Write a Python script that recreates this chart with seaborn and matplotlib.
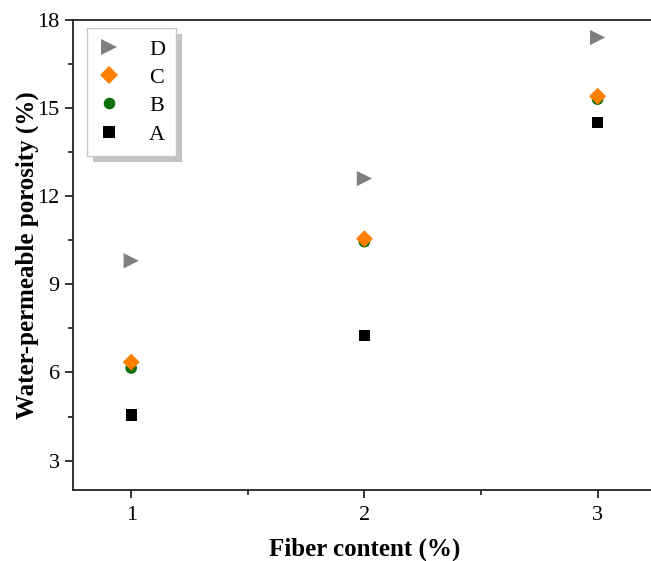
import numpy as np
import seaborn as sns
import pandas as pd
import matplotlib.pyplot as plt
from matplotlib.ticker import MultipleLocator
from matplotlib.patches import Rectangle

# values
fiber = [1, 2, 3]
group_a = [4.55, 7.25, 14.5]
group_b = [6.15, 10.45, 15.3]
group_c = [6.35, 10.55, 15.4]
group_d = [9.8, 12.6, 17.4]

df = pd.DataFrame({
    'fiber': fiber * 4,
    'porosity': group_a + group_b + group_c + group_d,
    'group': ['A'] * 3 + ['B'] * 3 + ['C'] * 3 + ['D'] * 3,
})

colors = {'A': '#000000', 'B': '#0b6e0b', 'C': '#ff7f00', 'D': '#7f7f7f'}
markers = {'A': 's', 'B': 'o', 'C': 'D', 'D': '>'}
sizes = {'A': 65, 'B': 70, 'C': 75, 'D': 120}

sns.set_style('ticks')
plt.rcParams['font.family'] = ['Liberation Serif', 'DejaVu Serif']
plt.rcParams['text.color'] = 'black'
plt.rcParams['axes.labelcolor'] = 'black'
plt.rcParams['xtick.color'] = 'black'
plt.rcParams['ytick.color'] = 'black'

fig = plt.figure(figsize=(6.51, 5.61), dpi=100)
ax = fig.add_axes([0.112, 0.1266, 0.8955, 0.838])

sns.scatterplot(data=df, x='fiber', y='porosity', hue='group', style='group', size='group',
                palette=colors, markers=markers, sizes=sizes, linewidth=0, ax=ax)

ax.set_xlim(0.75, 3.25)
ax.set_ylim(2, 18)
ax.xaxis.set_major_locator(MultipleLocator(1))
ax.xaxis.set_minor_locator(MultipleLocator(0.5))
ax.yaxis.set_major_locator(MultipleLocator(3))
ax.yaxis.set_minor_locator(MultipleLocator(1.5))
ax.tick_params(which='major', direction='out', length=5.5, width=1.1, labelsize=16, pad=4)
ax.tick_params(axis='x', which='major', pad=6)
ax.tick_params(which='minor', direction='out', length=3.5, width=1.1)
ax.tick_params(top=False, right=False, which='both')
for sp in ax.spines.values():
    sp.set_linewidth(1.3)
    sp.set_color('#222222')

ax.set_xlabel('Fiber content (%)', fontsize=18, fontweight='bold', labelpad=9)
ax.set_ylabel('Water-permeable porosity (%)', fontsize=18, fontweight='bold')
ax.yaxis.set_label_coords(-0.058, 0.5)

handles, labels = ax.get_legend_handles_labels()
leg = ax.legend(handles[::-1], labels[::-1], loc='upper left', bbox_to_anchor=(0.024, 0.983),
                borderaxespad=0, fontsize=16, frameon=True, fancybox=False,
                edgecolor='#c8c8c8', framealpha=1, labelspacing=0.35,
                handlelength=1.0, handletextpad=1.3, borderpad=0.5)
leg.get_frame().set_linewidth(1.0)
leg.set_zorder(5)

# grey drop shadow behind the legend box
fig.canvas.draw()
bb = leg.get_window_extent()
shadow = Rectangle((bb.x0 + 6, bb.y0 - 6), bb.width, bb.height, transform=None,
                   facecolor='#c4c4c4', edgecolor='none', zorder=4)
ax.add_artist(shadow)

plt.savefig('out.png', dpi=100)
